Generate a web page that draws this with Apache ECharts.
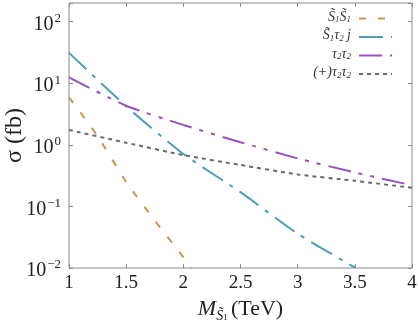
<!DOCTYPE html>
<html>
<head>
<meta charset="utf-8">
<script src="https://cdn.jsdelivr.net/npm/echarts@6/dist/echarts.min.js"></script>
<style>
  html, body { margin: 0; padding: 0; background: #ffffff; }
  #main { width: 418px; height: 322px; }
</style>
</head>
<body>
<div id="main"></div>
<script>
// data (sigma in fb)
var massSS = [1, 1.25, 1.5, 1.75, 2, 2.07];
var sigmaSS = [5.9, 1.38, 0.25, 0.059, 0.015, 0.01];

var massSTj = [1, 1.5, 2, 2.5, 3, 3.5];
var sigmaSTj = [31, 4.2, 0.71, 0.17, 0.036, 0.0102];

var massTT = [1, 1.5, 2, 2.5, 3, 3.5, 4];
var sigmaTT = [12.4, 4.3, 2.1, 1.1, 0.6, 0.355, 0.22];
var sigmaTTplus = [1.74, 1.08, 0.68, 0.47, 0.33, 0.26, 0.2];

var seriesNames = ["S1S1", "S1T2j", "T2T2", "pT2T2"];
// legend labels, rich text (i = italic main, s = subscript)
var legendLabels = {
  S1S1: "{i|S\u0303}{s|1}{i|S\u0303}{s|1}",
  S1T2j: "{i|S\u0303}{s|1}{i|\u03c4}{s|2} {i|j}",
  T2T2: "{i|\u03c4}{s|2}{i|\u03c4}{s|2}",
  pT2T2: "{i|(+)\u03c4}{s|2}{i|\u03c4}{s|2}"
};
var xTicks = [1, 1.5, 2, 2.5, 3, 3.5, 4];

function pairs(xs, ys) {
  return xs.map(function (x, i) { return [x, ys[i]]; });
}

var serif = "'Liberation Serif', 'Times New Roman', serif";
var frame = "#8a8a8a";
var ink = "#222";

var myChart = echarts.init(document.getElementById("main"));

function yLabel(v) {
  var e = Math.log10(v);
  if (Math.abs(e - Math.round(e)) > 1e-6) return "";
  e = Math.round(e);
  var s = e < 0 ? "\u2212" + (-e) : "" + e;
  return "{a|10}{b|" + s + "}";
}

var yRich = {
  a: { fontFamily: serif, fontSize: 20, color: ink, lineHeight: 22, padding: [6, 0, 0, 0] },
  b: { fontFamily: serif, fontSize: 13, color: ink, lineHeight: 22, padding: [0, 0, 6, 1] }
};

var option = {
  animation: false,
  grid: {
    left: 69, right: 6, top: 3, bottom: 54,
    outerBoundsMode: "none",
    show: true, borderColor: frame, borderWidth: 1
  },
  legend: {
    orient: "vertical",
    right: 20,
    top: 5,
    align: "right",
    itemWidth: 33,
    itemHeight: 10,
    itemGap: 1.5,
    itemStyle: { opacity: 0 },
    formatter: function (name) { return legendLabels[name]; },
    textStyle: {
      color: "#333",
      padding: [0, 3, 0, 0],
      rich: {
        i: { fontFamily: serif, fontStyle: "italic", fontSize: 14, color: "#333", lineHeight: 11, padding: [0, 0, 3, 0] },
        s: { fontFamily: serif, fontStyle: "italic", fontSize: 9, color: "#333", lineHeight: 11, padding: [3, 0, 0, 0] }
      }
    },
    data: seriesNames
  },
  xAxis: [
    {
      type: "value",
      min: 1,
      max: 4,
      interval: 0.5,
      name: "{m|M}{s|S\u0303}{u|1} {t|(TeV)}",
      nameLocation: "middle",
      nameGap: 22,
      nameTextStyle: {
        rich: {
          m: { fontFamily: serif, fontStyle: "italic", fontSize: 22, color: ink, lineHeight: 28, padding: [0, 0, 6, 0] },
          s: { fontFamily: serif, fontStyle: "italic", fontSize: 14, color: ink, lineHeight: 28, padding: [8, 0, 0, 0] },
          u: { fontFamily: serif, fontSize: 9, color: ink, lineHeight: 28, padding: [12, 0, 0, 0] },
          t: { fontFamily: serif, fontSize: 22, color: ink, lineHeight: 28, padding: [0, 0, 6, 0] }
        }
      },
      axisLine: { show: false },
      axisTick: { inside: true, length: 4, lineStyle: { color: frame } },
      axisLabel: {
        fontFamily: serif, fontSize: 19, color: ink, margin: 6,
        formatter: function (v) { return xTicks.indexOf(v) >= 0 ? String(v) : ""; }
      },
      splitLine: { show: false }
    },
    {
      type: "value",
      position: "top",
      min: 1,
      max: 4,
      interval: 0.5,
      axisLine: { show: false },
      axisTick: { inside: true, length: 4, lineStyle: { color: frame } },
      axisLabel: { show: false },
      splitLine: { show: false }
    }
  ],
  yAxis: [
    {
      type: "log",
      min: 0.01,
      max: 200,
      logBase: 10,
      name: "\u03c3 (fb)",
      nameLocation: "middle",
      nameGap: 42,
      nameMoveOverlap: false,
      nameRotate: 90,
      nameTextStyle: { fontFamily: serif, fontSize: 24, color: ink },
      axisLine: { show: false },
      axisTick: { inside: true, length: 4, lineStyle: { color: frame } },
      axisLabel: { margin: 8, formatter: yLabel, rich: yRich },
      splitLine: { show: false },
      minorTick: { show: false }
    },
    {
      type: "log",
      min: 0.01,
      max: 200,
      logBase: 10,
      position: "right",
      axisLine: { show: false },
      axisTick: { inside: true, length: 4, lineStyle: { color: frame } },
      axisLabel: { show: false },
      splitLine: { show: false }
    }
  ],
  series: [
    {
      name: seriesNames[0],
      type: "line",
      symbol: "none",
      clip: true,
      smooth: 0.2,
      data: pairs(massSS, sigmaSS),
      lineStyle: { color: "#c8954c", width: 2, type: [7, 12] },
      itemStyle: { color: "#c8954c" }
    },
    {
      name: seriesNames[1],
      type: "line",
      symbol: "none",
      clip: true,
      smooth: 0.2,
      data: pairs(massSTj, sigmaSTj),
      lineStyle: { color: "#4aa0b6", width: 2, type: [24, 8, 4, 8] },
      itemStyle: { color: "#4aa0b6" }
    },
    {
      name: seriesNames[2],
      type: "line",
      symbol: "none",
      clip: true,
      smooth: 0.2,
      data: pairs(massTT, sigmaTT),
      lineStyle: { color: "#9a50c0", width: 2, type: [23, 8, 4, 8, 4, 8] },
      itemStyle: { color: "#9a50c0" }
    },
    {
      name: seriesNames[3],
      type: "line",
      symbol: "none",
      clip: true,
      smooth: 0.2,
      data: pairs(massTT, sigmaTTplus),
      lineStyle: { color: "#6a6a6a", width: 2, type: [4, 4] },
      itemStyle: { color: "#6a6a6a" }
    }
  ]
};

myChart.setOption(option);
</script>
</body>
</html>
